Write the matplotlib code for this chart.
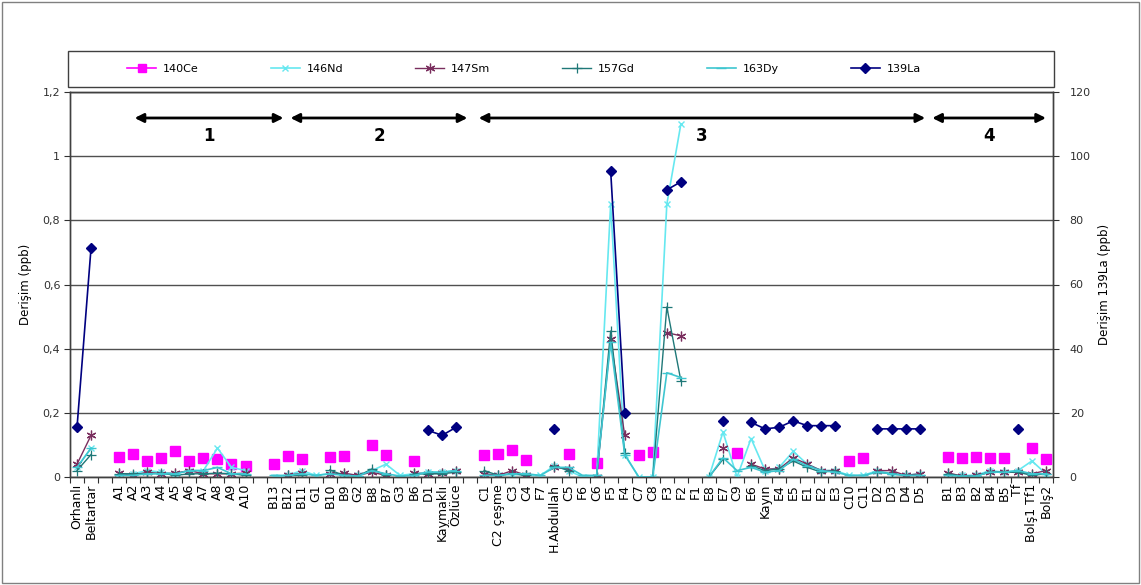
import numpy as np
import matplotlib
matplotlib.use("Agg")
import matplotlib.pyplot as plt
from matplotlib.lines import Line2D
from matplotlib.patches import Rectangle
from matplotlib.ticker import FixedLocator, FuncFormatter

plt.rcParams["font.family"] = ["DejaVu Sans"]
nan = np.nan

# Sampling stations along the category axis ("" = spacer between groups)
stations = [
    "Orhanlı", "Beltartar", "",
    "A1", "A2", "A3", "A4", "A5", "A6", "A7", "A8", "A9", "A10", "",
    "B13", "B12", "B11", "G1", "B10", "B9", "G2", "B8", "B7", "G3", "B6",
    "D1", "Kaymaklı", "Özlüce", "",
    "C1", "C2 çeşme", "C3", "C4", "F7", "H.Abdullah", "C5", "F6", "C6",
    "F5", "F4", "C7", "C8", "F3", "F2", "F1", "E8", "E7", "C9", "E6",
    "Kayın", "E4", "E5", "E1", "E2", "E3", "C10", "C11",
    "D2", "D3", "D4", "D5", "",
    "B1", "B3", "B2", "B4", "B5", "Tf", "Bolş1 Tf1", "Bolş2",
]

# Concentrations, ppb (left axis)
ce140 = [nan, nan, nan,
         0.063, 0.073, 0.050, 0.060, 0.080, 0.050, 0.060, 0.055, 0.040, 0.035, nan,
         0.042, 0.065, 0.057, nan, 0.063, 0.065, nan, 0.100, 0.070, nan, 0.050,
         nan, nan, nan, nan,
         0.068, 0.072, 0.083, 0.052, nan, nan, 0.072, nan, 0.045,
         nan, nan, 0.068, 0.078, nan, nan, nan, nan, nan, 0.075, nan,
         nan, nan, nan, nan, nan, nan, 0.050, 0.060,
         nan, nan, nan, nan, nan,
         0.063, 0.058, 0.063, 0.060, 0.060, nan, 0.090, 0.055]

nd146 = [0.030, 0.090, nan,
         0.010, 0.010, 0.020, 0.015, 0.010, 0.020, 0.020, 0.090, 0.030, 0.020, nan,
         0.000, 0.005, 0.020, 0.005, 0.010, 0.010, 0.005, 0.020, 0.040, 0.005, 0.010,
         0.015, 0.015, 0.020, nan,
         0.010, 0.005, 0.010, 0.005, 0.005, 0.035, 0.020, 0.000, 0.000,
         0.850, 0.070, 0.000, 0.000, 0.850, 1.100, nan, 0.000, 0.140, 0.000, 0.120,
         0.020, 0.030, 0.080, 0.040, 0.020, 0.020, 0.005, 0.005,
         0.020, 0.010, 0.005, 0.010, nan,
         0.005, 0.005, 0.005, 0.020, 0.015, 0.020, 0.050, 0.010]

sm147 = [0.040, 0.130, nan,
         0.012, 0.005, 0.015, 0.010, 0.012, 0.020, 0.010, 0.010, 0.010, 0.012, nan,
         nan, 0.005, 0.012, nan, 0.008, 0.012, 0.005, 0.015, 0.005, nan, 0.012,
         0.010, 0.012, 0.020, nan,
         0.010, 0.005, 0.020, 0.005, nan, 0.030, 0.025, nan, 0.000,
         0.430, 0.130, nan, nan, 0.450, 0.440, nan, nan, 0.090, nan, 0.040,
         0.025, 0.025, 0.060, 0.040, 0.020, 0.020, nan, nan,
         0.020, 0.020, 0.005, 0.010, nan,
         0.013, 0.003, 0.005, 0.015, 0.015, 0.015, 0.010, 0.020]

gd157 = [0.020, 0.070, nan,
         0.010, 0.010, 0.010, 0.012, 0.005, 0.010, 0.010, 0.012, 0.010, 0.005, nan,
         nan, 0.005, 0.005, nan, 0.022, 0.005, 0.003, 0.025, 0.005, nan, 0.010,
         0.010, 0.010, 0.015, nan,
         0.020, 0.005, 0.010, 0.005, nan, 0.035, 0.020, nan, 0.000,
         0.455, 0.075, nan, 0.000, 0.530, 0.300, nan, 0.000, 0.055, nan, 0.035,
         0.020, 0.025, 0.050, 0.030, 0.015, 0.020, nan, nan,
         0.015, 0.010, 0.005, 0.005, nan,
         0.010, 0.003, 0.003, 0.015, 0.015, 0.015, 0.005, 0.010]

dy163 = [0.030, 0.090, nan,
         0.005, 0.005, 0.010, 0.010, 0.010, 0.020, 0.020, 0.030, 0.010, 0.010, nan,
         0.005, 0.005, 0.010, 0.005, 0.010, 0.005, 0.003, 0.020, 0.010, 0.003, 0.005,
         0.015, 0.015, 0.020, nan,
         0.005, 0.005, 0.010, 0.010, 0.005, 0.030, 0.030, 0.005, 0.005,
         0.420, 0.070, 0.000, 0.000, 0.325, 0.310, nan, 0.000, 0.060, 0.020, 0.030,
         0.015, 0.020, 0.055, 0.035, 0.020, 0.015, 0.005, 0.005,
         0.015, 0.010, 0.005, 0.005, nan,
         0.005, 0.003, 0.003, 0.015, 0.015, 0.020, 0.010, 0.010]

# 139La, ppb (right axis)
la139 = [15.5, 71.5, nan,
         nan, nan, nan, nan, nan, nan, nan, nan, nan, nan, nan,
         nan, nan, nan, nan, nan, nan, nan, nan, nan, nan, nan,
         14.5, 13.0, 15.5, nan,
         nan, nan, nan, nan, nan, 15.0, nan, nan, nan,
         95.5, 20.0, nan, nan, 89.5, 92.0, nan, nan, 17.5, nan, 17.0,
         15.0, 15.5, 17.5, 16.0, 16.0, 16.0, nan, nan,
         15.0, 15.0, 15.0, 15.0, nan,
         nan, nan, nan, nan, nan, 15.0, nan, nan]

# Station groups marked with double-headed arrows: (label, start, end)
groups = [("1", 4.1, 14.7), ("2", 15.2, 27.8), ("3", 28.6, 60.4), ("4", 60.9, 69.0)]

W, H = 1141, 585
fig = plt.figure(figsize=(W / 100, H / 100), dpi=100)
ax = fig.add_axes([70 / W, 1 - 477 / H, (1053 - 70) / W, (477 - 92) / H])
ax2 = ax.twinx()

n = len(stations)
x = np.arange(n)

styles = {
    "140Ce": dict(color="#FF00FF", marker="s", ms=6.5, ls="none", mec="#FF00FF"),
    "146Nd": dict(color="#66E8F0", marker="x", ms=5, lw=1.2, mew=1.0),
    "147Sm": dict(color="#7A2E5E", marker=(6, 2, 0), ms=7, lw=1.0, mew=0.9),
    "157Gd": dict(color="#1F7878", marker="+", ms=7, lw=1.0, mew=0.9),
    "163Dy": dict(color="#3EC6D0", marker="_", ms=7, lw=1.2, mew=1.0),
    "139La": dict(color="#000080", marker="D", ms=5, lw=1.2),
}

ax.plot(x, ce140, **styles["140Ce"], zorder=3)
ax.plot(x, nd146, **styles["146Nd"], zorder=3)
ax.plot(x, sm147, **styles["147Sm"], zorder=3)
ax.plot(x, gd157, **styles["157Gd"], zorder=3)
ax.plot(x, dy163, **styles["163Dy"], zorder=3)
ax2.plot(x, la139, **styles["139La"], zorder=3)

# Axes limits and ticks
ax.set_xlim(-0.5, n - 0.5)
ax.set_ylim(0, 1.2)
ax2.set_ylim(0, 120)
ax.set_yticks(np.arange(0, 1.21, 0.2))
ax.yaxis.set_major_formatter(FuncFormatter(
    lambda v, p: ("%g" % round(v, 1)).replace(".", ",")))
ax2.set_yticks(np.arange(0, 121, 20))

ax.xaxis.set_major_locator(FixedLocator(np.arange(n + 1) - 0.5))
ax.xaxis.set_minor_locator(FixedLocator(x))
ax.set_xticklabels([], minor=False)
ax.set_xticklabels(stations, minor=True, rotation=90, fontsize=9, va="top", ha="center")
ax.tick_params(axis="x", which="major", length=4, width=0.8, color="#303030")
ax.tick_params(axis="x", which="minor", length=0, pad=5)
ax.tick_params(axis="y", length=4, width=0.8, labelsize=8, colors="#303030", pad=3)
ax2.tick_params(axis="y", length=4, width=0.8, labelsize=8, colors="#303030", pad=8)

ax.yaxis.grid(True, color="#505050", lw=1.0)
ax.set_axisbelow(True)
for a in (ax, ax2):
    for s in a.spines.values():
        s.set_color("#404040")
        s.set_linewidth(1.0)

ax.set_ylabel("Derişim (ppb)", fontsize=8.5, labelpad=8)
ax2.set_ylabel("Derişim 139La (ppb)", fontsize=8.5, labelpad=5)

# Group arrows and numbers
for lab, x0, x1 in groups:
    ax.annotate("", xy=(x0, 1.119), xytext=(x1, 1.119),
                arrowprops=dict(arrowstyle="<|-|>", color="black", lw=2,
                                mutation_scale=13, shrinkA=0, shrinkB=0))
    ax.text((x0 + x1) / 2, 1.062, lab, fontsize=12, fontweight="bold",
            ha="center", va="center")

# Legend in a framed box above the plot
fig.patches.append(Rectangle((68 / W, 1 - 87 / H), (1054 - 68) / W, (87 - 51) / H,
                             transform=fig.transFigure, fill=False,
                             edgecolor="#404040", lw=1.0))
names = ["140Ce", "146Nd", "147Sm", "157Gd", "163Dy", "139La"]
handles = []
for nm in names:
    st = dict(styles[nm])
    if nm == "140Ce":
        st["ls"] = "-"
        st["lw"] = 1.2
        st["ms"] = 5.5
    handles.append(Line2D([], [], **st))
fig.legend(handles, names, loc="center", bbox_to_anchor=(524 / W, 1 - 69 / H),
           ncol=6, frameon=False, fontsize=8, handlelength=2.6,
           handletextpad=0.6, columnspacing=6.5)

# Outer chart border
fig.patches.append(Rectangle((0.002, 0.003), 0.996, 0.994, transform=fig.transFigure,
                             fill=False, edgecolor="#808080", lw=1.0))

fig.savefig("out.png", dpi=100)
